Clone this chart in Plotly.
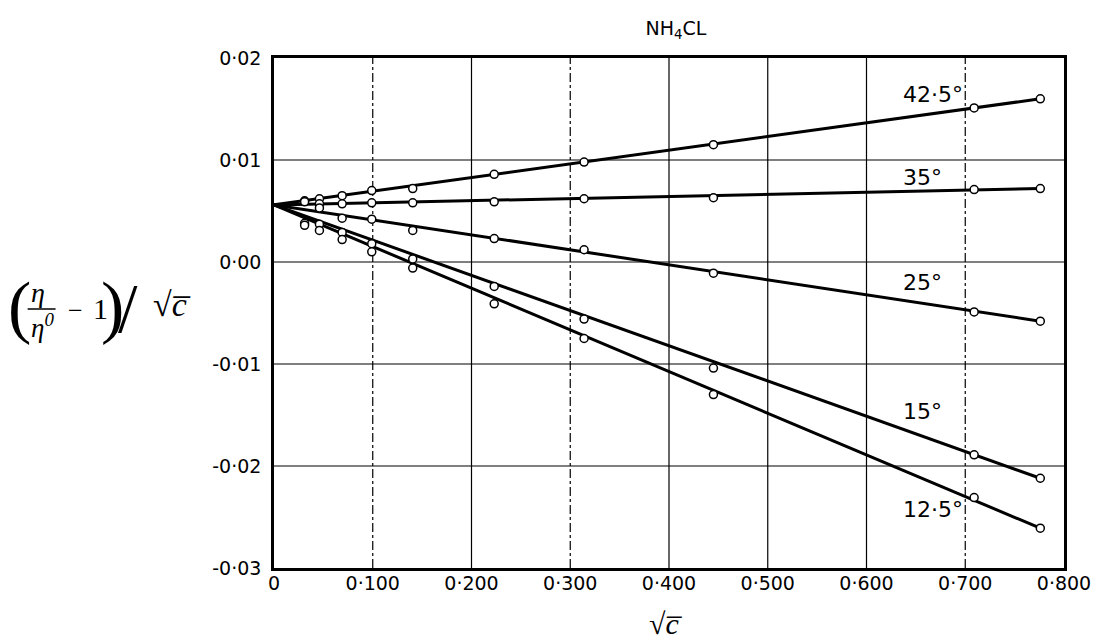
import plotly.graph_objects as go

# ---- data ----
x_all = [0.031, 0.046, 0.069, 0.099, 0.1405, 0.223, 0.314, 0.445, 0.709, 0.776]
x_25 = [0.046, 0.069, 0.099, 0.1405, 0.223, 0.314, 0.445, 0.709, 0.776]

y_425 = [0.0060, 0.0062, 0.0065, 0.0070, 0.0072, 0.0086, 0.0098, 0.0115, 0.0151, 0.0160]
y_35 = [0.0059, 0.0057, 0.0057, 0.0058, 0.0058, 0.0059, 0.0062, 0.0063, 0.0071, 0.0072]
y_25 = [0.0053, 0.0043, 0.0042, 0.0031, 0.0023, 0.0012, -0.0011, -0.0049, -0.0058]
y_15 = [0.0038, 0.0037, 0.0029, 0.0018, 0.0003, -0.0024, -0.0056, -0.0104, -0.0189, -0.0212]
y_125 = [0.0036, 0.0031, 0.0022, 0.0010, -0.0006, -0.0041, -0.0075, -0.0130, -0.0231, -0.0261]

# fitted straight lines (start at sqrt(c)=0, end at last point)
line_x = [0.0, 0.776]
line_start = 0.0056
line_end = {"42·5°": 0.0160, "35°": 0.0072, "25°": -0.0058, "15°": -0.0212, "12·5°": -0.0261}

series = [
    ("42·5°", x_all, y_425, 0.01647),
    ("35°", x_all, y_35, 0.00833),
    ("25°", x_25, y_25, -0.0020),
    ("15°", x_all, y_15, -0.0147),
    ("12·5°", x_all, y_125, -0.0243),
]

x_ticks = [0, 0.1, 0.2, 0.3, 0.4, 0.5, 0.6, 0.7, 0.8]
x_ticktext = ["0", "0·100", "0·200", "0·300", "0·400", "0·500", "0·600", "0·700", "0·800"]
y_ticks = [-0.03, -0.02, -0.01, 0.0, 0.01, 0.02]
y_ticktext = ["-0·03", "-0·02", "-0·01", "0·00", "0·01", "0·02"]
label_x = 0.635

# ---- layout geometry (page pixels, page body has an 8px margin) ----
OFF = 8
W, H = 1103 - OFF, 638 - OFF
L, T = 274 - OFF, 58 - OFF
R, B = 1103 - 1066, 638 - 568


def px(xp):
    return (xp - OFF - L) / (W - L - R)


def py(yp):
    return (H - B - (yp - OFF)) / (H - T - B)


sans = "DejaVu Sans, Liberation Sans, sans-serif"
serif = "Liberation Serif, DejaVu Serif, serif"

fig = go.Figure()

for name, xs, ys, ly in series:
    fig.add_trace(go.Scatter(
        x=line_x, y=[line_start, line_end[name]], mode="lines",
        line=dict(color="black", width=3), showlegend=False, hoverinfo="skip"))

for name, xs, ys, ly in series:
    fig.add_trace(go.Scatter(
        x=xs, y=ys, mode="markers", name=name,
        marker=dict(symbol="circle", size=8, color="white",
                    line=dict(color="black", width=1.5)),
        showlegend=False))

# grid lines
vdash = {0.1: "dashdot", 0.2: "solid", 0.3: "dashdot", 0.4: "solid",
         0.5: "solid", 0.6: "solid", 0.7: "dashdot"}
for xv, d in vdash.items():
    fig.add_shape(type="line", xref="x", yref="paper", x0=xv, x1=xv, y0=0, y1=1,
                  line=dict(color="black", width=1.2, dash=d), layer="below")
for yv in [-0.02, -0.01, 0.0, 0.01]:
    fig.add_shape(type="line", xref="paper", yref="y", x0=0, x1=1, y0=yv, y1=yv,
                  line=dict(color="black", width=1.2), layer="below")

# curve labels
for name, xs, ys, ly in series:
    fig.add_annotation(x=label_x, y=ly, xref="x", yref="y", text=name,
                       showarrow=False, xanchor="left", yanchor="middle",
                       font=dict(family=sans, size=22, color="black"))


def ann(xp, yp, text, size, italic=False, family=serif):
    fig.add_annotation(x=px(xp), y=py(yp), xref="paper", yref="paper", text=text,
                       showarrow=False, xanchor="center", yanchor="middle",
                       font=dict(family=family, size=size, color="black",
                                 style="italic" if italic else "normal"))


# y-axis title composed as a fraction: (η/η⁰ − 1)/√c
ann(19, 306, "(", 70)
ann(37, 292, "η", 28, True)
ann(42, 326, "η<sup>0</sup>", 27, True)
fig.add_shape(type="line", xref="paper", yref="paper", x0=px(27), x1=px(55),
              y0=py(309), y1=py(309), line=dict(color="black", width=1.5))
ann(75, 310, "−", 26)
ann(100, 308, "1", 30)
ann(112, 306, ")", 70)
ann(128, 308, "/", 70)
ann(172, 304, "√<i>c̅</i>", 34)

# x-axis title
ann(667, 623, "√<i>c̅</i>", 30)

fig.update_layout(
    width=W, height=H,
    margin=dict(l=L, r=R, t=T, b=B),
    paper_bgcolor="white", plot_bgcolor="white",
    title=dict(text="NH<sub>4</sub>CL", x=(676 - OFF) / W, xanchor="center",
               y=1 - (28 - OFF) / H, yanchor="middle",
               font=dict(family=sans, size=19, color="black")),
    xaxis=dict(range=[0, 0.8], tickvals=x_ticks, ticktext=x_ticktext,
               showgrid=False, zeroline=False, showline=True, mirror=True,
               linecolor="black", linewidth=2.5, ticks="", ticklabelstandoff=-4,
               tickfont=dict(family=sans, size=19, color="black")),
    yaxis=dict(range=[-0.03, 0.02], tickvals=y_ticks, ticktext=y_ticktext,
               showgrid=False, zeroline=False, showline=True, mirror=True,
               linecolor="black", linewidth=2.5, ticks="", ticklabelstandoff=6,
               tickfont=dict(family=sans, size=19, color="black")),
)

fig.write_html("out.html")
